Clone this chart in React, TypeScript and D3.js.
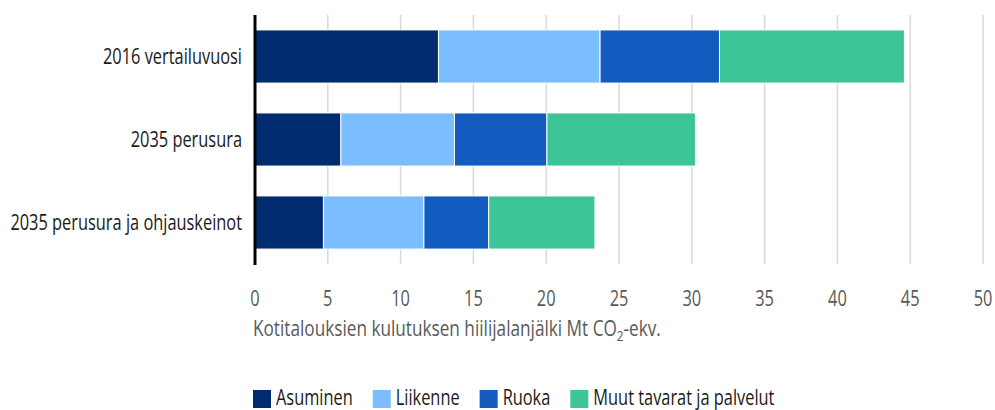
import React, { useEffect, useRef } from "react";
import * as d3 from "d3";

const categories = ["2016 vertailuvuosi", "2035 perusura", "2035 perusura ja ohjauskeinot"];
const seriesNames = ["Asuminen", "Liikenne", "Ruoka", "Muut tavarat ja palvelut"];
const asuminen = [12.6, 5.9, 4.7];
const liikenne = [11.1, 7.8, 6.9];
const ruoka = [8.2, 6.35, 4.45];
const muut = [12.7, 10.2, 7.3];
const xTicks = [0, 5, 10, 15, 20, 25, 30, 35, 40, 45, 50];
const colors = ["#002B6E", "#7ABEFF", "#125BBF", "#3CC597"];

const W = 995;
const H = 410;
const FONT = "'Open Sans', 'Liberation Sans', sans-serif";
const FS = 22;
const REF_LABEL_WIDTH = 139; // width of the first category label in the condensed reference font

export default function App() {
  const ref = useRef<SVGSVGElement>(null);
  useEffect(() => {
    const svg = d3.select(ref.current);
    svg.selectAll("*").remove();
    const x = d3.scaleLinear().domain([0, 50]).range([255, 983]);
    const y = d3.scaleBand().domain(categories).range([15, 264]).paddingInner(0.36).paddingOuter(0.18);

    // condensing factor
    const probe = svg.append("text").attr("font-family", FONT).attr("font-size", FS).text(categories[0]);
    const K = REF_LABEL_WIDTH / (probe.node() as SVGTextElement).getComputedTextLength();
    probe.remove();
    const condense = (sel: any) => {
      sel.each(function (this: SVGTextElement) {
        const w = this.getComputedTextLength();
        d3.select(this).attr("textLength", w * K).attr("lengthAdjust", "spacingAndGlyphs");
      });
    };

    const rows = categories.map((c, i) => ({
      cat: c,
      Asuminen: asuminen[i],
      Liikenne: liikenne[i],
      Ruoka: ruoka[i],
      "Muut tavarat ja palvelut": muut[i],
    }));
    const stack = d3.stack<any>().keys(seriesNames)(rows);

    // gridlines
    svg.append("g").selectAll("line").data(xTicks.slice(1)).join("line")
      .attr("x1", (d) => x(d)).attr("x2", (d) => x(d))
      .attr("y1", 15).attr("y2", 264)
      .attr("stroke", "#d9d9d9").attr("stroke-width", 1.5);

    // bars
    const g = svg.append("g");
    stack.forEach((s, si) => {
      g.append("g").selectAll("rect").data(s).join("rect")
        .attr("x", (d) => x(d[0]))
        .attr("width", (d) => x(d[1]) - x(d[0]))
        .attr("y", (d) => y((d.data as any).cat)!)
        .attr("height", y.bandwidth())
        .attr("fill", colors[si])
        .attr("stroke", "#ffffff")
        .attr("stroke-width", 1);
    });

    // axis line
    svg.append("line").attr("x1", x(0)).attr("x2", x(0)).attr("y1", 15).attr("y2", 265)
      .attr("stroke", "#000").attr("stroke-width", 3);

    // y labels
    svg.append("g").selectAll("text").data(categories).join("text")
      .attr("x", 242)
      .attr("y", (d) => y(d)! + y.bandwidth() / 2 + 7)
      .attr("text-anchor", "end")
      .attr("font-family", FONT).attr("font-size", FS)
      .attr("fill", "#1a1a1a")
      .text((d) => d)
      .call(condense);

    // x tick labels
    svg.append("g").selectAll("text").data(xTicks).join("text")
      .attr("x", (d) => x(d)).attr("y", 306)
      .attr("text-anchor", "middle")
      .attr("font-family", FONT).attr("font-size", FS)
      .attr("fill", "#595959")
      .text((d) => String(d))
      .call(condense);

    // axis title (condensed through a horizontal scale)
    const KT = K * 1.05;
    const tg = svg.append("g").attr("transform", `scale(${KT},1)`);
    const t = tg.append("text").attr("x", 253 / KT).attr("y", 336)
      .attr("font-family", FONT).attr("font-size", FS).attr("fill", "#595959");
    t.append("tspan").text("Kotitalouksien kulutuksen hiilijalanjälki Mt CO");
    t.append("tspan").attr("font-size", 15).attr("dy", 5).text("2");
    t.append("tspan").attr("dy", -5).text("-ekv.");

    // legend
    const lg = svg.append("g");
    let lx = 253;
    seriesNames.forEach((name, i) => {
      lg.append("rect").attr("x", lx).attr("y", 390).attr("width", 18).attr("height", 18).attr("fill", colors[i]);
      const tx = lg.append("text").attr("x", lx + 23).attr("y", 405)
        .attr("font-family", FONT).attr("font-size", FS).attr("fill", "#1a1a1a").text(name);
      const w = (tx.node() as SVGTextElement).getComputedTextLength() * K;
      condense(tx);
      lx = lx + 23 + w + 20;
    });
  }, []);
  return (
    <svg ref={ref} width={W} height={H} style={{ position: "absolute", left: 0, top: 0, background: "#fff" }} />
  );
}
